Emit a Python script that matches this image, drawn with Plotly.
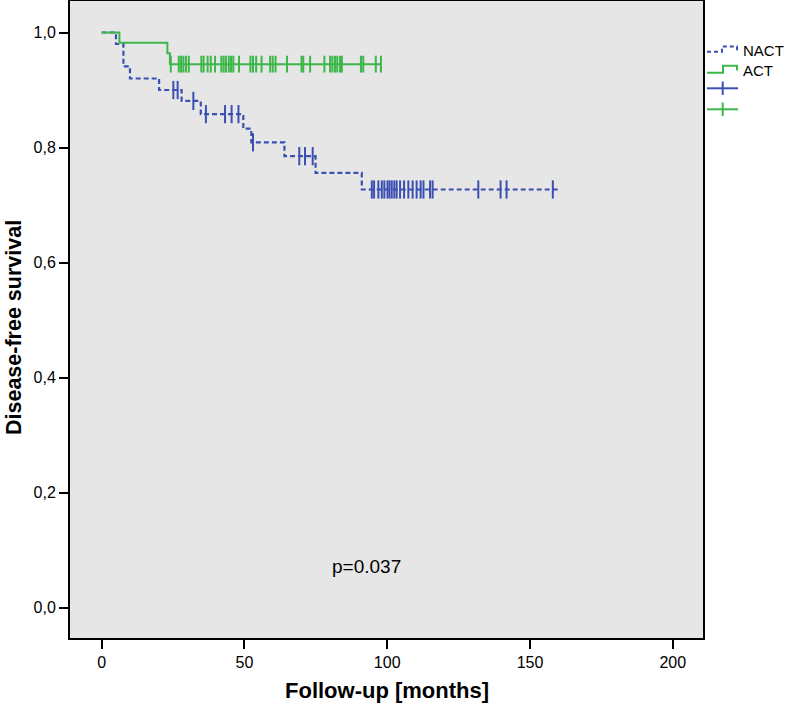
import numpy as np
import plotly.graph_objects as go

# ---------------- data ----------------
nact_name = "NACT"
nact_event_times = [0, 5.0, 7.6, 9.9, 20.1, 28.0, 34.7, 49.6, 52.4, 64.0, 74.9, 91.1]
nact_surv = [1.0, 0.980, 0.941, 0.920, 0.900, 0.881, 0.858, 0.833, 0.809, 0.785, 0.756, 0.727]
nact_last_followup = 159.8
nact_censored = [25.1, 26.6, 32.1, 36.5, 43.2, 45.5, 47.9, 53.0, 69.2, 71.2, 73.9,
                 94.6, 95.4, 96.9, 98.1, 99.0, 100.1, 100.8, 101.6, 102.5, 103.3,
                 104.5, 105.9, 107.4, 108.9, 110.3, 111.7, 112.7, 115.0, 115.9,
                 131.9, 139.7, 141.8, 158.0]

act_name = "ACT"
act_event_times = [0, 6.2, 23.0, 23.9]
act_surv = [1.0, 0.982, 0.964, 0.945]
act_last_followup = 97.8
act_censored = [24.2, 27.0, 27.8, 28.6, 29.5, 30.5, 34.9, 35.7, 37.1, 38.2, 39.7,
                41.9, 42.7, 43.5, 44.5, 45.3, 46.1, 48.1, 52.1, 53.0, 54.1, 56.0,
                59.0, 59.9, 60.9, 64.9, 70.0, 70.6, 73.0, 78.0, 80.0, 80.8, 81.7,
                82.5, 83.5, 84.1, 90.8, 91.6, 96.0, 97.8]

p_text = "p=0.037"
x_ticks = [0, 50, 100, 150, 200]
y_ticks = [0.0, 0.2, 0.4, 0.6, 0.8, 1.0]
y_ticklabels = ["0,0", "0,2", "0,4", "0,6", "0,8", "1,0"]
x_title = "Follow-up [months]"
y_title = "Disease-free survival"

# ---------------- styles ----------------
BLUE = "#3B50B2"
GREEN = "#3DB64A"
FONT = "Liberation Sans, Arial, sans-serif"

W, H = 787, 710
ML, MR, MT, MB = 70, 84, 1, 72
PW, PH = W - ML - MR, H - MT - MB


def step_xy(times, surv, end):
    xs = list(times) + [end]
    ys = list(surv) + [surv[-1]]
    return xs, ys


def surv_at(times, surv, t):
    idx = np.searchsorted(np.asarray(times), np.asarray(t), side="right") - 1
    return np.asarray(surv)[idx]


fig = go.Figure()

nx, ny = step_xy(nact_event_times, nact_surv, nact_last_followup)
ax_, ay_ = step_xy(act_event_times, act_surv, act_last_followup)

fig.add_trace(go.Scatter(x=nx, y=ny, mode="lines", line_shape="hv",
                         line=dict(color=BLUE, width=2.2, dash="5px,3px"),
                         name=nact_name, showlegend=False, hoverinfo="skip"))
fig.add_trace(go.Scatter(x=nact_censored, y=surv_at(nact_event_times, nact_surv, nact_censored),
                         mode="markers",
                         marker=dict(symbol="line-ns", size=13, line=dict(color=BLUE, width=2)),
                         name=nact_name + " censored", showlegend=False))
fig.add_trace(go.Scatter(x=ax_, y=ay_, mode="lines", line_shape="hv",
                         line=dict(color=GREEN, width=2),
                         name=act_name, showlegend=False, hoverinfo="skip"))
fig.add_trace(go.Scatter(x=act_censored, y=surv_at(act_event_times, act_surv, act_censored),
                         mode="markers",
                         marker=dict(symbol="line-ns", size=12, line=dict(color=GREEN, width=2)),
                         name=act_name + " censored", showlegend=False))

# ---------------- manual legend / titles (pixel positions -> paper) ----------------
def px(x):
    return (x - ML) / PW


def py(y):
    return (H - MB - y) / PH


def path(points):
    return "M " + " L ".join(f"{px(a):.5f},{py(b):.5f}" for a, b in points)


shapes = [
    dict(type="path", xref="paper", yref="paper",
         path=path([(707, 51.7), (722, 51.7), (722, 46.5), (737, 46.5), (737, 50.5)]),
         line=dict(color=BLUE, width=2, dash="4px,3px")),
    dict(type="path", xref="paper", yref="paper",
         path=path([(707, 72.7), (723, 72.7), (723, 65.7), (737, 65.7), (737, 70.5)]),
         line=dict(color=GREEN, width=2)),
    dict(type="line", xref="paper", yref="paper", x0=px(707), x1=px(738), y0=py(88.3), y1=py(88.3),
         line=dict(color=BLUE, width=2)),
    dict(type="line", xref="paper", yref="paper", x0=px(722.7), x1=px(722.7), y0=py(81.5), y1=py(95),
         line=dict(color=BLUE, width=2)),
    dict(type="line", xref="paper", yref="paper", x0=px(707), x1=px(738), y0=py(109.3), y1=py(109.3),
         line=dict(color=GREEN, width=2)),
    dict(type="line", xref="paper", yref="paper", x0=px(722.7), x1=px(722.7), y0=py(102.5), y1=py(116),
         line=dict(color=GREEN, width=2)),
]

annotations = [
    dict(x=px(741), y=py(50.5), xref="paper", yref="paper", text=nact_name, showarrow=False,
         xanchor="left", yanchor="middle", font=dict(family=FONT, size=15, color="black")),
    dict(x=px(741), y=py(70.5), xref="paper", yref="paper", text=act_name, showarrow=False,
         xanchor="left", yanchor="middle", font=dict(family=FONT, size=15, color="black")),
    dict(x=92.8, y=0.071, xref="x", yref="y", text=p_text, showarrow=False,
         xanchor="center", yanchor="middle", font=dict(family=FONT, size=19, color="black")),
    dict(x=px(387), y=py(690), xref="paper", yref="paper", text="<b>" + x_title + "</b>",
         showarrow=False, xanchor="center", yanchor="middle",
         font=dict(family=FONT, size=22, color="black")),
    dict(x=px(14), y=py(328), xref="paper", yref="paper", text="<b>" + y_title + "</b>",
         showarrow=False, xanchor="center", yanchor="middle", textangle=-90,
         font=dict(family=FONT, size=21.5, color="black")),
]

fig.update_layout(
    width=W, height=H,
    margin=dict(l=ML, r=MR, t=MT, b=MB, pad=0, autoexpand=False),
    paper_bgcolor="white",
    plot_bgcolor="#e6e6e6",
    showlegend=False,
    shapes=shapes,
    annotations=annotations,
    font=dict(family=FONT, color="black"),
)

fig.update_xaxes(range=[-11.1, 210.6], tickvals=x_ticks, ticktext=[str(v) for v in x_ticks],
                 showgrid=False, zeroline=False, showline=True, mirror=True, automargin=False,
                 linecolor="black", linewidth=2, ticks="outside", ticklen=9, tickwidth=2,
                 tickcolor="black", tickfont=dict(family=FONT, size=16, color="black"))
fig.update_yaxes(range=[-0.053, 1.0548], tickvals=y_ticks, ticktext=y_ticklabels,
                 showgrid=False, zeroline=False, showline=True, mirror=True, automargin=False,
                 linecolor="black", linewidth=2, ticks="outside", ticklen=9, tickwidth=2,
                 tickcolor="black", tickfont=dict(family=FONT, size=16, color="black"))

fig.write_html("out.html", config={"displayModeBar": False},
               post_script="document.body.style.margin='0';document.body.style.overflow='hidden';")
